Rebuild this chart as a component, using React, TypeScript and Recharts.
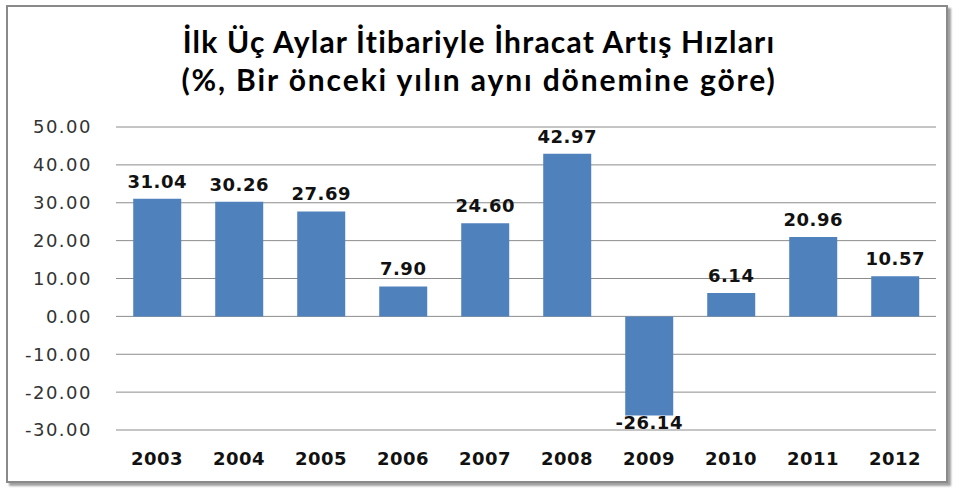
import { BarChart, Bar, XAxis, YAxis, CartesianGrid, LabelList } from "recharts";

const years = ["2003", "2004", "2005", "2006", "2007", "2008", "2009", "2010", "2011", "2012"];
const growth = [31.04, 30.26, 27.69, 7.9, 24.6, 42.97, -26.14, 6.14, 20.96, 10.57];
const yTicks = [-30, -20, -10, 0, 10, 20, 30, 40, 50];

const data = years.map((y, i) => ({ year: y, value: growth[i] }));

const BLUE = "#4f81bd";

function ValueLabel(props: any) {
    const { x, y, width, height, value } = props;
    const top = Math.min(y, y + height);
    const bottom = Math.max(y, y + height);
    const cx = x + width / 2;
    const ty = value >= 0 ? top - 16 : bottom + 9;
    return (
        <text
            x={cx}
            y={ty}
            textAnchor="middle"
            dominantBaseline="middle"
            fontFamily="DejaVu Sans"
            fontWeight="bold"
            fontSize={18}
            letterSpacing={0.5}
            fill="#111"
        >
            {value.toFixed(2)}
        </text>
    );
}

export default function App() {
    return (
        <div style={{ position: "absolute", left: 0, top: 0, width: 958, height: 488, background: "#fff" }}>
            <div
                style={{
                    position: "absolute",
                    left: 6,
                    top: 5,
                    width: 938,
                    height: 474,
                    border: "2px solid #8a8a8a",
                    boxShadow: "3px 3px 2px #a0a0a0",
                }}
            />
            <div
                style={{
                    position: "absolute",
                    left: 0,
                    top: 22,
                    width: 958,
                    textAlign: "center",
                    fontFamily: "Lato",
                    fontWeight: "bold",
                    fontSize: 30,
                    letterSpacing: 1.2,
                    lineHeight: "38px",
                    color: "#000",
                }}
            >
                <div>İlk Üç Aylar İtibariyle İhracat Artış Hızları</div>
                <div style={{ letterSpacing: 1.9 }}>(%, Bir önceki yılın aynı dönemine göre)</div>
            </div>
            <div style={{ position: "absolute", left: 0, top: 0 }}>
                <BarChart
                    width={958}
                    height={488}
                    data={data}
                    margin={{ top: 127, right: 22, bottom: 0, left: 16 }}
                    barCategoryGap="21%"
                >
                    <CartesianGrid vertical={false} stroke="#8c8c8c" strokeWidth={1} />
                    <XAxis
                        dataKey="year"
                        axisLine={false}
                        tickLine={false}
                        tickSize={0}
                        tickMargin={22}
                        height={58}
                        interval={0}
                        tick={{ fontFamily: "DejaVu Sans", fontWeight: "bold", fontSize: 18, fill: "#111", letterSpacing: 0.5 }}
                    />
                    <YAxis
                        width={100}
                        domain={[-30, 50]}
                        ticks={yTicks}
                        interval={0}
                        axisLine={false}
                        tickLine={false}
                        tickSize={0}
                        tickMargin={24}
                        tickFormatter={(v: number) => v.toFixed(2)}
                        tick={{ fontFamily: "DejaVu Sans", fontSize: 18, fill: "#333", letterSpacing: 1.5 }}
                    />
                    <Bar dataKey="value" fill={BLUE} isAnimationActive={false}>
                        <LabelList dataKey="value" content={ValueLabel} />
                    </Bar>
                </BarChart>
            </div>
        </div>
    );
}
